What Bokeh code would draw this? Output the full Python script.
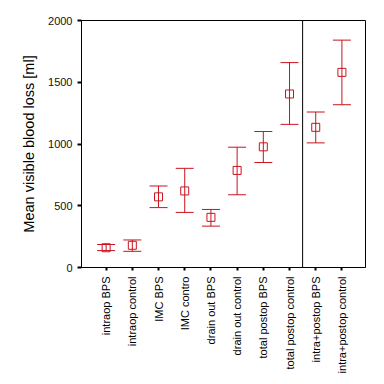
from bokeh.plotting import figure
from bokeh.models import ColumnDataSource, Whisker, Span, FixedTicker, Range1d
from bokeh.embed import file_html
from bokeh.resources import INLINE

categories = ["intraop BPS", "intraop control", "IMC BPS", "IMC contro",
              "drain out BPS", "drain out control", "total postop BPS",
              "total postop control", "intra+postop BPS", "intra+postop control"]
means = [160, 180, 572, 620, 406, 786, 977, 1405, 1135, 1580]
upper = [186, 223, 660, 803, 470, 974, 1101, 1659, 1259, 1841]
lower = [137, 131, 485, 446, 335, 589, 850, 1159, 1009, 1318]
y_ticks = [0, 500, 1000, 1500, 2000]

xs = list(range(len(categories)))
src = ColumnDataSource(dict(x=xs, mean=means, upper=upper, lower=lower))

RED = "#c8141e"
p = figure(width=376, height=376, output_backend="svg", toolbar_location=None,
           x_range=Range1d(-0.94, 9.9), y_range=Range1d(0, 2000),
           min_border_left=81, min_border_right=11, min_border_top=20,
           min_border_bottom=105)
p.xgrid.visible = False
p.ygrid.visible = False
p.outline_line_color = "black"
p.outline_line_width = 1

w = Whisker(source=src, base="x", upper="upper", lower="lower",
            line_color=RED, line_width=1)
w.upper_head.line_color = RED
w.lower_head.line_color = RED
w.upper_head.size = 18
w.lower_head.size = 18
p.add_layout(w)
p.scatter("x", "mean", source=src, marker="square", size=8,
          fill_color=None, line_color=RED, line_width=1)

p.add_layout(Span(location=7.5, dimension="height", line_color="black", line_width=1))

p.yaxis.ticker = FixedTicker(ticks=y_ticks)
p.yaxis.minor_tick_line_color = None
p.yaxis.axis_label = "Mean visible blood loss [ml]"
p.yaxis.axis_label_text_font = "Liberation Sans"
p.yaxis.axis_label_text_font_style = "normal"
p.yaxis.axis_label_text_font_size = "14.5px"
p.yaxis.axis_label_text_color = "black"
p.yaxis.axis_label_standoff = 8
p.yaxis.major_label_text_font = "Liberation Sans"
p.yaxis.major_label_text_font_size = "11px"
p.yaxis.major_label_text_color = "#111111"
p.yaxis.major_label_standoff = 5
p.yaxis.major_tick_out = 4
p.yaxis.major_tick_in = 0
p.yaxis.major_tick_line_width = 2

p.xaxis.ticker = FixedTicker(ticks=xs)
p.xaxis.major_label_overrides = {i: c for i, c in enumerate(categories)}
p.xaxis.major_label_orientation = 1.5708
p.xaxis.major_label_text_font = "Liberation Sans"
p.xaxis.major_label_text_font_size = "11px"
p.xaxis.major_label_text_color = "black"
p.xaxis.major_label_standoff = 6
p.xaxis.minor_tick_line_color = None
p.xaxis.major_tick_out = 3
p.xaxis.major_tick_in = 0
p.xaxis.major_tick_line_width = 2

open("out.html", "w").write(file_html(p, INLINE))
